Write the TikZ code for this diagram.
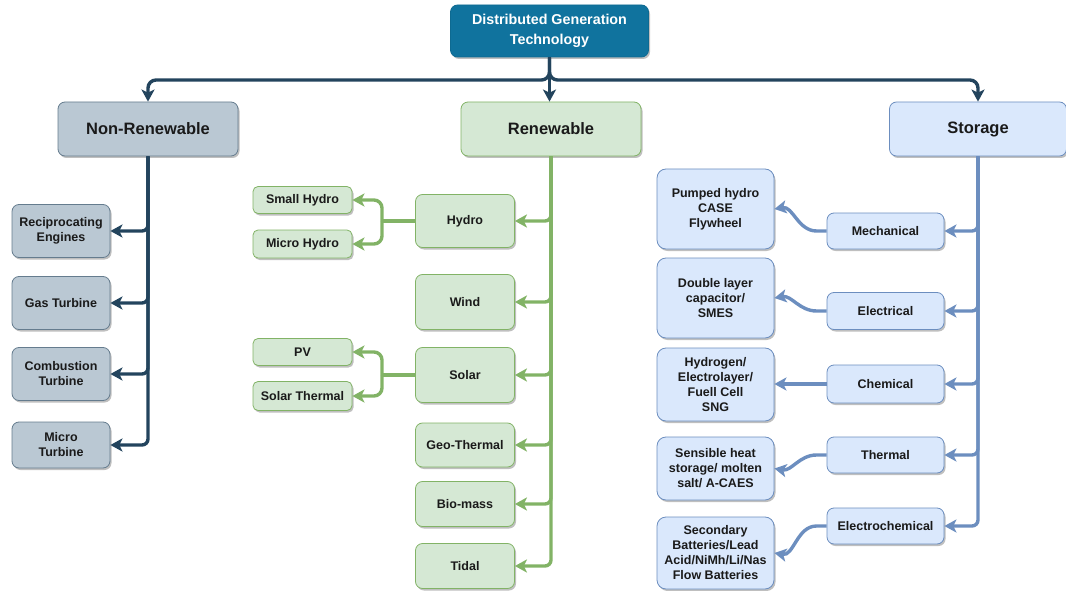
\documentclass[tikz,border=0pt]{standalone}
\usepackage{fontspec}
\setmainfont{Liberation Sans}
\usetikzlibrary{arrows.meta,shadows}
\definecolor{topfill}{HTML}{10739E}
\definecolor{topline}{HTML}{0E6A91}
\definecolor{nrfill}{HTML}{BAC8D3}
\definecolor{nrline}{HTML}{23445D}
\definecolor{rnfill}{HTML}{D5E8D4}
\definecolor{rnline}{HTML}{82B366}
\definecolor{stfill}{HTML}{DAE8FC}
\definecolor{stline}{HTML}{6C8EBF}
\definecolor{txt}{HTML}{1A1A1A}
\tikzset{
  base/.style={draw, rounded corners=7pt, line width=0.8pt, align=center, inner sep=2pt,
    text=txt, drop shadow={shadow xshift=1.5pt, shadow yshift=-2pt, opacity=0.25, fill=black}},
  leaf/.style={base, font=\bfseries\fontsize{12.5}{15}\selectfont},
  cat/.style={base, font=\bfseries\fontsize{16.5}{19}\selectfont},
  nrbox/.style={leaf, fill=nrfill, draw=nrline!70},
  rnbox/.style={leaf, fill=rnfill, draw=rnline},
  stbox/.style={leaf, fill=stfill, draw=stline},
  conn/.style={line width=3.4pt, rounded corners=6pt, -{Stealth[length=12pt,width=13pt,inset=3pt]}},
  nrarrow/.style={conn, draw=nrline},
  rnarrow/.style={conn, draw=rnline},
  starrow/.style={conn, draw=stline},
  plainline/.style={line width=3.4pt}
}
\begin{document}
\begin{tikzpicture}[x=1pt,y=-1pt]
\useasboundingbox (0,0) rectangle (1066,591);
% top
\node[base, fill=topfill, draw=topline, text=white, minimum width=198pt, minimum height=52pt,
  font=\bfseries\fontsize{14.3}{20}\selectfont] (top) at (549.5,31) {Distributed Generation\\Technology};
% categories
\node[cat, fill=nrfill, draw=nrline!70, minimum width=180pt, minimum height=54pt] (nonren) at (148,129) {Non-Renewable};
\node[cat, fill=rnfill, draw=rnline, minimum width=180pt, minimum height=54pt] (renew) at (551,129) {Renewable};
\node[cat, fill=stfill, draw=stline, minimum width=177pt, minimum height=54pt] (storage) at (978,129) {Storage};
% non-renewable children
\node[nrbox, minimum width=98pt, minimum height=53pt] (recip) at (61,231) {Reciprocating\\Engines};
\node[nrbox, minimum width=98pt, minimum height=53pt] (gas) at (61,303) {Gas Turbine};
\node[nrbox, minimum width=98pt, minimum height=53pt] (comb) at (61,374) {Combustion\\Turbine};
\node[nrbox, minimum width=98pt, minimum height=46pt] (micro) at (61,445) {Micro\\Turbine};
% renewable children
\node[rnbox, minimum width=99pt, minimum height=53pt] (hydro) at (465,221) {Hydro};
\node[rnbox, minimum width=99pt, minimum height=55pt] (wind) at (465,302) {Wind};
\node[rnbox, minimum width=99pt, minimum height=55pt] (solar) at (465,375) {Solar};
\node[rnbox, minimum width=99pt, minimum height=44pt] (geo) at (465,445) {Geo-Thermal};
\node[rnbox, minimum width=99pt, minimum height=45pt] (bio) at (465,504) {Bio-mass};
\node[rnbox, minimum width=99pt, minimum height=45pt] (tidal) at (465,566) {Tidal};
% renewable grandchildren
\node[rnbox, rounded corners=5pt, minimum width=99pt, minimum height=27pt] (small) at (302.5,200) {Small Hydro};
\node[rnbox, rounded corners=5pt, minimum width=99pt, minimum height=28pt] (microh) at (302.5,244) {Micro Hydro};
\node[rnbox, rounded corners=5pt, minimum width=99pt, minimum height=27pt] (pv) at (302.5,352) {PV};
\node[rnbox, rounded corners=5pt, minimum width=99pt, minimum height=29pt] (solth) at (302.5,396) {Solar Thermal};
% storage children
\node[stbox, minimum width=117pt, minimum height=36pt] (mech) at (885.5,231) {Mechanical};
\node[stbox, minimum width=117pt, minimum height=37pt] (elec) at (885.5,311) {Electrical};
\node[stbox, minimum width=117pt, minimum height=38pt] (chem) at (885.5,384) {Chemical};
\node[stbox, minimum width=117pt, minimum height=36pt] (therm) at (885.5,455) {Thermal};
\node[stbox, minimum width=117pt, minimum height=36pt] (echem) at (885.5,526) {Electrochemical};
% storage leaves
\node[stbox, rounded corners=9pt, minimum width=117pt, minimum height=80pt] (pump) at (715.5,209) {Pumped hydro\\CASE\\Flywheel};
\node[stbox, rounded corners=9pt, minimum width=117pt, minimum height=80pt] (dlayer) at (715.5,298) {Double layer\\capacitor/\\SMES};
\node[stbox, rounded corners=9pt, minimum width=117pt, minimum height=73pt] (hydrog) at (715.5,384.5) {Hydrogen/\\Electrolayer/\\Fuell Cell\\SNG};
\node[stbox, rounded corners=9pt, minimum width=117pt, minimum height=63pt] (sens) at (715.5,468.5) {Sensible heat\\storage/ molten\\salt/ A-CAES};
\node[stbox, rounded corners=9pt, minimum width=117pt, minimum height=72pt] (sec) at (715.5,553) {Secondary\\Batteries/Lead\\Acid/NiMh/Li/Nas\\Flow Batteries};
% main bus
\coordinate (bus) at (549.5,80);
\draw[nrarrow, rounded corners=8pt] (top.south) -- (bus) -| (nonren.north);
\draw[nrarrow, rounded corners=8pt] (top.south) -- (bus) -| (storage.north);
\draw[nrarrow] (top.south) -- (top.south |- renew.north);
% non-renewable branch
\foreach \n in {recip,gas,comb,micro}{
  \draw[nrarrow] (nonren.south) |- (\n.east);
}
% renewable branch
\foreach \n in {hydro,wind,solar,geo,bio,tidal}{
  \draw[rnarrow] (renew.south) |- (\n.east);
}
\coordinate (hj) at (382,221);
\coordinate (sj) at (382,375);
\draw[plainline, draw=rnline] (hydro.west) -- (hj);
\draw[rnarrow, rounded corners=8pt] (hj) |- (small.east);
\draw[rnarrow, rounded corners=8pt] (hj) |- (microh.east);
\draw[plainline, draw=rnline] (solar.west) -- (sj);
\draw[rnarrow, rounded corners=8pt] (sj) |- (pv.east);
\draw[rnarrow, rounded corners=8pt] (sj) |- (solth.east);
% storage branch
\foreach \n in {mech,elec,chem,therm,echem}{
  \draw[starrow] (storage.south) |- (\n.east);
}
\draw[starrow, rounded corners=0pt] (mech.west) -- ++(-10,0) to[out=180,in=10] (pump.east);
\draw[starrow, rounded corners=0pt] (elec.west) -- ++(-10,0) to[out=180,in=10] (dlayer.east);
\draw[starrow, rounded corners=0pt] (chem.west) -- (chem.west -| hydrog.east);
\draw[starrow, rounded corners=0pt] (therm.west) -- ++(-10,0) to[out=180,in=-10] (sens.east);
\draw[starrow, rounded corners=0pt] (echem.west) -- ++(-10,0) to[out=180,in=-10] (sec.east);
\end{tikzpicture}
\end{document}
